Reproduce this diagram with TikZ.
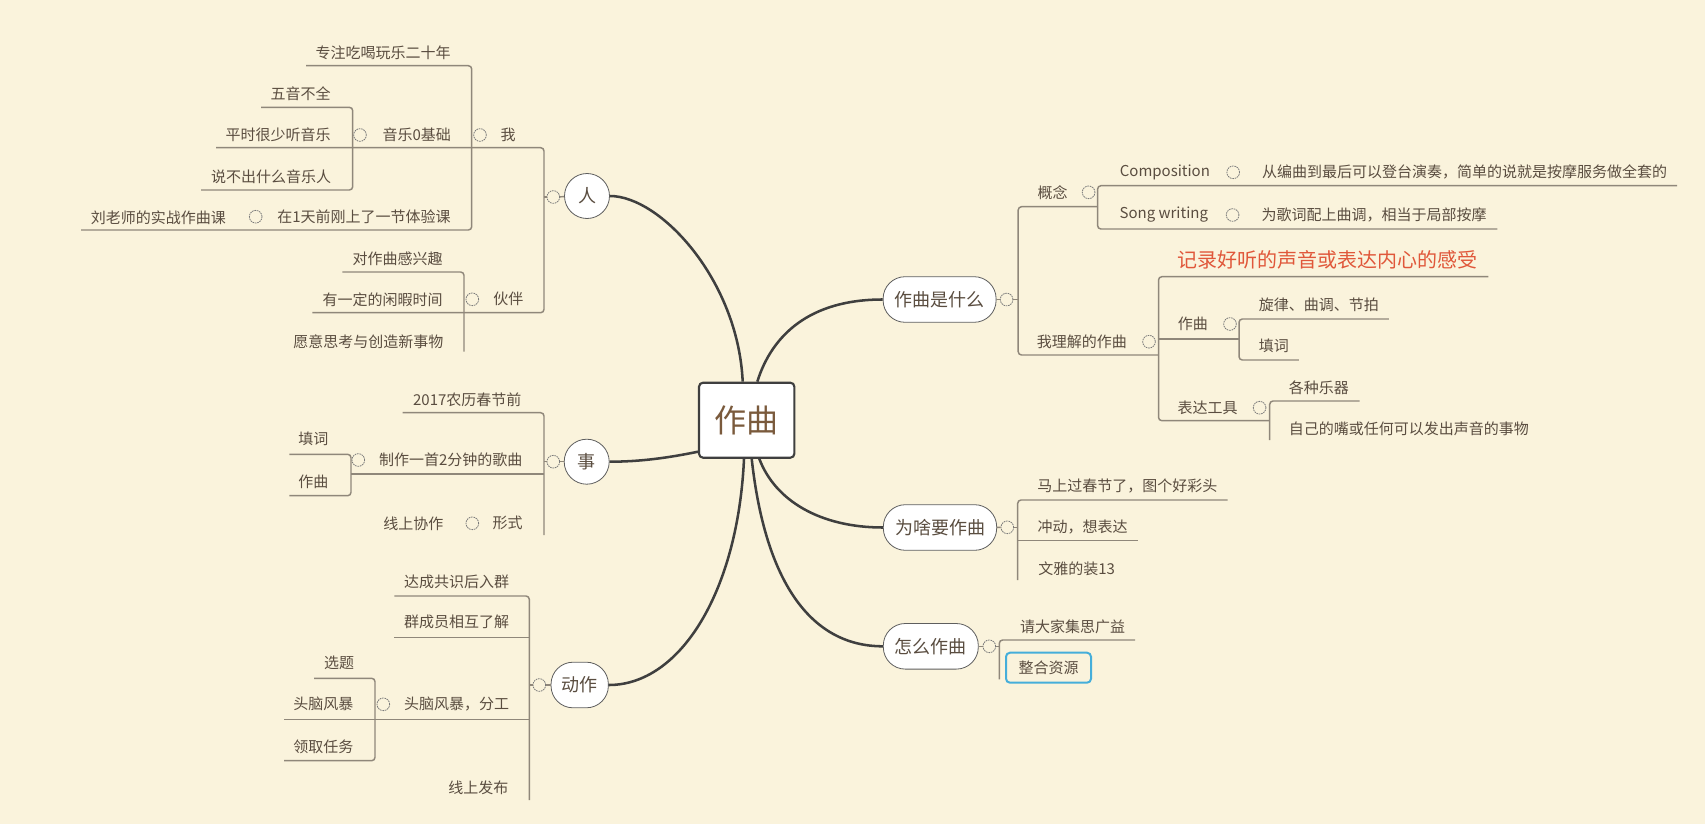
\documentclass[tikz,border=0pt]{standalone}
\usepackage{fontspec}
\setmainfont{Noto Sans CJK SC}
\usetikzlibrary{calc}
\definecolor{bg}{HTML}{FAF3DC}
\definecolor{lineC}{HTML}{8F877A}
\definecolor{txtC}{HTML}{5A4D40}
\definecolor{curveC}{HTML}{3F3F3F}
\definecolor{nodeB}{HTML}{5E5E5E}
\definecolor{connC}{HTML}{7A7A7A}
\definecolor{redC}{HTML}{E0573A}
\definecolor{mainT}{HTML}{7A5A3C}
\definecolor{blueB}{HTML}{45AEDA}
\begin{document}
\begin{tikzpicture}[x=0.75pt,y=-0.75pt,
  lbl/.style={inner sep=0pt,text=txtC,font=\fontsize{11.25}{13}\selectfont},
  redlbl/.style={inner sep=0pt,text=redC,font=\fontsize{15}{17}\selectfont},
  mainN/.style={draw=curveC,line width=1.6pt,fill=white,rounded corners=3pt,minimum width=71.5pt,minimum height=56.25pt,text=mainT,font=\fontsize{24}{28}\selectfont},
  rootC/.style={circle,draw=nodeB,line width=0.6pt,fill=white,minimum size=33.75pt,inner sep=0pt,text=txtC,font=\fontsize{13.5}{16}\selectfont},
  rootS/.style={rectangle,draw=nodeB,line width=0.6pt,fill=white,rounded corners=16.5pt,minimum height=34.2pt,inner sep=0pt,text=txtC,font=\fontsize{13.5}{16}\selectfont},
  conn/.style={circle,draw=connC,dash pattern=on 1.2pt off 0.6pt,line width=0.6pt,minimum size=9.5pt,inner sep=0pt,fill=bg},
  br/.style={draw=lineC,line width=1.1pt,rounded corners=2.5pt},
  mc/.style={draw=curveC,line width=1.9pt},
  boxN/.style={draw=blueB,line width=1.5pt,rounded corners=3pt,minimum width=63.75pt,minimum height=22.5pt,inner sep=0pt,text=txtC,font=\fontsize{11.25}{13}\selectfont}
]
\fill[bg] (0,0) rectangle (1705,824);

% ---------- branch lines (left) ----------
\draw[br] (306,65.7) -- (471.7,65.7) -- (471.7,230) -- (81,230);
\draw[br] (216,147.7) -- (544,147.7) -- (544,312.7) -- (312.3,312.7);
\draw[br] (261,107.3) -- (352.7,107.3) -- (352.7,190) -- (201,190);
\draw[br] (342.3,272) -- (464,272) -- (464,351.7);
\draw[br] (402.7,412.7) -- (544,412.7) -- (544,535);
\draw[br] (351,474) -- (544,474);
\draw[br] (289.3,454.3) -- (351,454.3) -- (351,495.7) -- (289.3,495.7);
\draw[br] (394.3,596) -- (529.3,596) -- (529.3,800);
\draw[br] (394.3,637.3) -- (529.3,637.3);
\draw[br] (284,719.3) -- (529.3,719.3);
\draw[br] (314,678.3) -- (375,678.3) -- (375,760.7) -- (284,760.7);

% ---------- branch lines (right) ----------
\draw[br] (1097.6,206.7) -- (1018.2,206.7) -- (1018.2,355) -- (1158.5,355);
\draw[br] (1677,185.7) -- (1097.6,185.7) -- (1097.6,229) -- (1497.3,229);
\draw[br] (1488.3,276.7) -- (1158.5,276.7) -- (1158.5,420.7) -- (1269.7,420.7);
\draw[br] (1158.5,339) -- (1239,339);
\draw[br] (1388.8,319) -- (1239,319) -- (1239,360) -- (1298.8,360);
\draw[br] (1359.7,401) -- (1269.7,401) -- (1269.7,440);
\draw[br] (1227.7,500) -- (1017.7,500) -- (1017.7,580);
\draw[br] (1017.7,540.7) -- (1138.3,540.7);
\draw[br] (1135,640) -- (999.3,640) -- (999.3,679.3);

% ---------- main and root nodes ----------
\node[mainN] (main) at (746.7,420.2) {作曲};
\node[rootC] (ren) at (587,196) {人};
\node[rootC] (shi) at (586.7,461.7) {事};
\node[rootS,minimum width=43pt] (dz) at (579.7,685) {动作};
\node[rootS,minimum width=84.75pt] (what) at (939.6,299.5) {作曲是什么};
\node[rootS,minimum width=85pt] (why) at (940,527.5) {为啥要作曲};
\node[rootS,minimum width=71.25pt] (how) at (930.8,646.3) {怎么作曲};

% ---------- main curves ----------
\draw[mc] ($(main.north)+(-4,0)$) .. controls +(-4.7,-101.7) and +(50.5,0) .. (ren.east);
\draw[mc] ($(main.north)+(10.6,0)$) .. controls +(14.7,-46.7) and +(-73,0) .. (what.west);
\draw[mc] ($(main.west)+(0,31.5)$) .. controls +(-29,6) and +(31,0) .. (shi.east);
\draw[mc] ($(main.south)+(-2.7,0)$) .. controls +(-6,132) and +(72,0) .. (dz.east);
\draw[mc] ($(main.south)+(12.6,0)$) .. controls +(15.7,41.7) and +(-63,0) .. (why.west);
\draw[mc] ($(main.south)+(5,0)$) .. controls +(13.3,121.7) and +(-73,0) .. (how.west);

% ---------- root connectors ----------
\coordinate (tren) at (544,197);
\node[conn] (cren) at (553.3,197) {};
\draw[br] (tren) -- (cren); \draw[br] (cren) -- (ren);
\coordinate (tshi) at (544,461.7);
\node[conn] (cshi) at (553.3,461.7) {};
\draw[br] (tshi) -- (cshi); \draw[br] (cshi) -- (shi);
\coordinate (tdz) at (529.3,685);
\node[conn] (cdz) at (539.3,685) {};
\draw[br] (tdz) -- (cdz); \draw[br] (cdz) -- (dz);
\coordinate (twhat) at (1018.2,299.5);
\node[conn] (cwhat) at (1006.6,299.5) {};
\draw[br] (what) -- (cwhat); \draw[br] (cwhat) -- (twhat);
\coordinate (twhy) at (1017.7,527.3);
\node[conn] (cwhy) at (1007.3,527.3) {};
\draw[br] (why) -- (cwhy); \draw[br] (cwhy) -- (twhy);
\coordinate (thow) at (999.3,646.3);
\node[conn] (chow) at (989.3,646.3) {};
\draw[br] (how) -- (chow); \draw[br] (chow) -- (thow);

% ---------- sub connectors ----------
\node[conn] (cwo) at (480,135) {};
\node[conn] (cyy) at (360,135) {};
\node[conn] (czai) at (255.7,216.7) {};
\node[conn] (chb) at (472.3,299.3) {};
\node[conn] (czz) at (358.3,460) {};
\node[conn] (cxs) at (472.3,523.3) {};
\node[conn] (ctn) at (383.3,704.3) {};
\node[conn] (cgn) at (1088.6,192.3) {};
\node[conn] (ccomp) at (1233.2,172.3) {};
\node[conn] (csong) at (1232.6,215) {};
\node[conn] (cwlj) at (1149,341.7) {};
\node[conn] (czq) at (1230,324) {};
\node[conn] (cbd) at (1259.6,407.7) {};

% ---------- labels (left) ----------
\node[lbl] (l1) at (383,53) {专注吃喝玩乐二十年};
\node[lbl] (l2) at (508,135) {我};
\node[lbl] (l3) at (416.7,135) {音乐0基础};
\node[lbl] (l4) at (300.7,93.3) {五音不全};
\node[lbl] (l5) at (278,135) {平时很少听音乐};
\node[lbl] (l6) at (271,176.7) {说不出什么音乐人};
\node[lbl] (l7) at (364,216.7) {在1天前刚上了一节体验课};
\node[lbl] (l8) at (158.3,217.7) {刘老师的实战作曲课};
\node[lbl] (l9) at (508.3,299.3) {伙伴};
\node[lbl] (l10) at (397.7,259) {对作曲感兴趣};
\node[lbl] (l11) at (382.7,299.3) {有一定的闲暇时间};
\node[lbl] (l12) at (368.3,341.7) {愿意思考与创造新事物};
\node[lbl] (s1) at (467.3,399.3) {2017农历春节前};
\node[lbl] (s2) at (450.7,460) {制作一首2分钟的歌曲};
\node[lbl] (s3) at (313.3,439.3) {填词};
\node[lbl] (s4) at (313.3,481.7) {作曲};
\node[lbl] (s5) at (507.7,523.3) {形式};
\node[lbl] (s6) at (413.3,523.3) {线上协作};
\node[lbl] (d1) at (456.7,581.7) {达成共识后入群};
\node[lbl] (d2) at (456.7,622.3) {群成员相互了解};
\node[lbl] (d3) at (456.7,704.3) {头脑风暴，分工};
\node[lbl] (d4) at (339,663.3) {选题};
\node[lbl] (d5) at (323.3,704.3) {头脑风暴};
\node[lbl] (d6) at (323.3,746.7) {领取任务};
\node[lbl] (d7) at (478.3,787.7) {线上发布};

% ---------- labels (right) ----------
\node[lbl] (w1) at (1052.6,192.3) {概念};
\node[lbl] (w2) at (1164.9,172.3) {Composition};
\node[lbl] (w3) at (1464.5,172.3) {从编曲到最后可以登台演奏，简单的说就是按摩服务做全套的};
\node[lbl] (w4) at (1163.8,215) {Song writing};
\node[lbl] (w5) at (1374,215) {为歌词配上曲调，相当于局部按摩};
\node[lbl] (w6) at (1081.8,341.7) {我理解的作曲};
\node[redlbl] (w7) at (1327.9,260) {记录好听的声音或表达内心的感受};
\node[lbl] (w8) at (1192.9,324) {作曲};
\node[lbl] (w9) at (1318.9,305) {旋律、曲调、节拍};
\node[lbl] (w10) at (1273.9,346) {填词};
\node[lbl] (w11) at (1207.7,407.7) {表达工具};
\node[lbl] (w12) at (1318.9,387.3) {各种乐器};
\node[lbl] (w13) at (1408.9,428.3) {自己的嘴或任何可以发出声音的事物};
\node[lbl] (y1) at (1127.3,485.7) {马上过春节了，图个好彩头};
\node[lbl] (y2) at (1082.7,526.7) {冲动，想表达};
\node[lbl] (y3) at (1076.7,568.3) {文雅的装13};
\node[lbl] (h1) at (1072.7,626.7) {请大家集思广益};
\node[boxN] (h2) at (1048.5,667.7) {整合资源};
\end{tikzpicture}
\end{document}
